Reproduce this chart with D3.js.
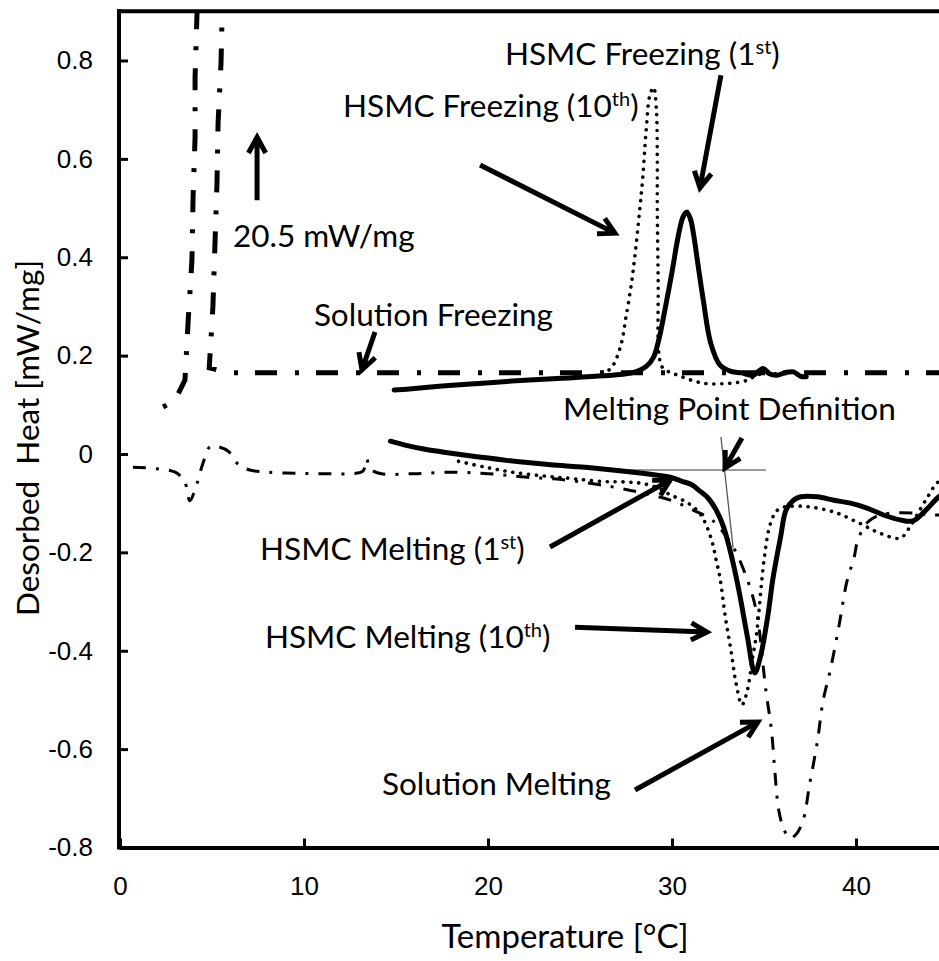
<!DOCTYPE html>
<html>
<head>
<meta charset="utf-8">
<script src="https://cdn.jsdelivr.net/npm/d3@7"></script>
<style>
  body { margin: 0; background: #fff; }
  svg { display: block; }
</style>
</head>
<body>
<svg id="chart" width="939" height="961"></svg>
<script>
// ---- DSC traces: temperature [°C] and desorbed heat [mW/mg] ----

// Solution freezing (cooling run; the exotherm peaks off-scale at 20.5 mW/mg)
const solFreezeT = [45, 30, 20, 10, 6, 4.85, 5.05, 5.16, 5.27, 5.33, 5.49, 5.54, 5.6, 4.85, 4.25, 4.18, 4.08, 4.08, 3.97, 3.91, 3.70, 3.53, 3.08, 2.72, 2.0];
const solFreezeV = [0.165, 0.165, 0.165, 0.165, 0.165, 0.175, 0.30, 0.425, 0.55, 0.672, 0.795, 0.876, 0.95, 20.5, 0.95, 0.89, 0.766, 0.644, 0.52, 0.394, 0.268, 0.15, 0.116, 0.103, 0.089];

// Solution melting
const solMeltT = [0.7, 2.0, 3.0, 3.5, 3.8, 4.1, 4.5, 4.9, 5.3, 5.9, 6.4, 7.0, 8.0, 9.5, 11, 12.5, 13.2, 13.4, 13.6, 14.2, 16, 18, 20, 22, 24, 26, 27.2, 28.5, 30, 31.2, 32.2, 33.3, 34.1, 34.6, 35.1, 35.4, 35.6, 35.8, 36.1, 36.4, 36.7, 37.1, 37.5, 37.9, 38.2, 38.6, 39.1, 39.5, 39.9, 40.1, 40.6, 41.2, 42, 43.1, 44.2, 45];
const solMeltV = [-0.027, -0.030, -0.037, -0.055, -0.095, -0.07, -0.02, 0.015, 0.015, 0.005, -0.02, -0.032, -0.037, -0.039, -0.040, -0.040, -0.035, -0.010, -0.030, -0.040, -0.040, -0.037, -0.040, -0.047, -0.052, -0.062, -0.070, -0.080, -0.095, -0.115, -0.135, -0.188, -0.256, -0.323, -0.48, -0.56, -0.65, -0.724, -0.765, -0.781, -0.775, -0.748, -0.667, -0.585, -0.504, -0.44, -0.344, -0.26, -0.21, -0.175, -0.14, -0.125, -0.120, -0.120, -0.124, -0.124];

// HSMC freezing, 1st cycle
const hsmcFreeze1T = [14.9, 16, 17.5, 19.7, 22, 24, 26.3, 27.5, 28.1, 28.6, 29.0, 29.3, 29.6, 30.0, 30.35, 30.6, 30.8, 31.0, 31.2, 31.4, 31.7, 32.1, 32.6, 33.2, 33.8, 34.4, 34.95, 35.3, 35.7, 36.2, 36.6, 37.0, 37.3];
const hsmcFreeze1V = [0.130, 0.133, 0.138, 0.144, 0.150, 0.154, 0.159, 0.163, 0.168, 0.178, 0.197, 0.235, 0.290, 0.370, 0.445, 0.482, 0.492, 0.478, 0.440, 0.388, 0.313, 0.226, 0.181, 0.168, 0.165, 0.160, 0.174, 0.163, 0.160, 0.166, 0.167, 0.158, 0.157];

// HSMC freezing, 10th cycle
const hsmcFreeze10T = [26.2, 26.7, 27.2, 27.5, 27.8, 28.0, 28.2, 28.4, 28.6, 28.8, 29.0, 29.15, 29.2, 29.2, 29.25, 29.3, 29.5, 30.4, 31.7, 33.2, 34.1, 34.6, 35.2, 36.0];
const hsmcFreeze10V = [0.163, 0.175, 0.218, 0.279, 0.348, 0.408, 0.480, 0.557, 0.660, 0.730, 0.745, 0.700, 0.600, 0.500, 0.350, 0.200, 0.175, 0.159, 0.144, 0.144, 0.150, 0.160, 0.165, 0.160];

// HSMC melting, 1st cycle
const hsmcMelt1T = [14.7, 15.5, 16.5, 17.9, 19.5, 21, 23.4, 24.9, 26.1, 27.9, 29.2, 29.9, 30.5, 31.1, 31.5, 31.9, 32.4, 32.8, 33.15, 33.4, 33.7, 34.1, 34.5, 34.8, 35.2, 35.5, 35.9, 36.2, 36.6, 37.0, 37.9, 38.8, 39.7, 40.6, 41.5, 42.4, 43.1, 43.8, 44.5, 45];
const hsmcMelt1V = [0.026, 0.018, 0.010, 0.002, -0.006, -0.013, -0.022, -0.026, -0.030, -0.037, -0.043, -0.047, -0.055, -0.063, -0.075, -0.087, -0.114, -0.148, -0.195, -0.235, -0.290, -0.372, -0.445, -0.413, -0.331, -0.250, -0.169, -0.114, -0.094, -0.087, -0.087, -0.094, -0.100, -0.110, -0.124, -0.134, -0.136, -0.114, -0.087, -0.075];

// HSMC melting, 10th cycle
const hsmcMelt10T = [18.4, 20, 21.5, 23.4, 24.3, 26.3, 27.5, 28.4, 29.3, 29.9, 30.8, 31.5, 31.9, 32.2, 32.4, 32.6, 32.9, 33.2, 33.5, 33.8, 34.1, 34.35, 34.6, 35.0, 35.3, 35.6, 35.9, 37.0, 38.8, 40.2, 41.3, 42.4, 42.9, 43.5, 43.9, 44.4, 45];
const hsmcMelt10V = [-0.015, -0.028, -0.038, -0.046, -0.049, -0.056, -0.057, -0.060, -0.070, -0.083, -0.098, -0.120, -0.148, -0.181, -0.216, -0.250, -0.331, -0.398, -0.470, -0.510, -0.480, -0.420, -0.364, -0.216, -0.148, -0.120, -0.110, -0.106, -0.118, -0.141, -0.161, -0.171, -0.150, -0.112, -0.087, -0.059, -0.045];

// Tangent construction used to read the melting point
const baseTangentT = [26, 35.1];
const baseTangentV = [-0.0325, -0.0325];
const slopeTangentT = [32.66, 33.32];
const slopeTangentV = [0.0346, -0.191];

// Axis ticks
const xTicks = [0, 10, 20, 30, 40];
const yTicks = [-0.8, -0.6, -0.4, -0.2, 0, 0.2, 0.4, 0.6, 0.8];

// Callout labels (text pieces, superscripts flagged) and their anchor in data units
const labelParts = [
  [["HSMC Freezing (1"], ["st", 1], [")"]],
  [["HSMC Freezing (10"], ["th", 1], [")"]],
  [["20.5 mW/mg"]],
  [["Solution Freezing"]],
  [["Melting Point Definition"]],
  [["HSMC Melting (1"], ["st", 1], [")"]],
  [["HSMC Melting (10"], ["th", 1], [")"]],
  [["Solution Melting"]]
];
const labelAnchor = ["start", "start", "start", "end", "start", "start", "start", "start"];
const labelT = [20.92, 12.12, 6.14, 23.53, 24.08, 7.61, 7.88, 14.24];
const labelV = [0.791, 0.685, 0.421, 0.26, 0.069, -0.2155, -0.394, -0.693];

// Callout arrows: tail (T, V) -> tip (T, V)
const arrowTailT = [7.45, 13.86, 19.57, 32.66, 33.8, 23.37, 24.73, 27.99];
const arrowTailV = [0.516, 0.248, 0.5875, 0.770, 0.0325, -0.189, -0.352, -0.683];
const arrowTipT  = [7.45, 13.15, 26.9, 31.52, 32.88, 29.9, 31.9, 34.67];
const arrowTipV  = [0.644, 0.171, 0.449, 0.541, -0.0285, -0.053, -0.362, -0.545];

// ---- drawing ----
const svg = d3.select("#chart");
const x = d3.scaleLinear().domain([0, 45]).range([120, 948]);
const y = d3.scaleLinear().domain([-0.8, 0.9]).range([847.5, 11.3]);

const zip = (a, b) => a.map((t, i) => [t, b[i]]);

svg.append("defs").append("clipPath").attr("id", "plotClip")
  .append("rect")
  .attr("x", x(0)).attr("y", y(0.9))
  .attr("width", x(45) - x(0)).attr("height", y(-0.8) - y(0.9));

const plot = svg.append("g").attr("clip-path", "url(#plotClip)");

const smooth = d3.line().x(d => x(d[0])).y(d => y(d[1])).curve(d3.curveCatmullRom.alpha(0.5));
const straight = d3.line().x(d => x(d[0])).y(d => y(d[1]));

// tangent lines (thin grey)
plot.append("path").attr("d", straight(zip(baseTangentT, baseTangentV)))
  .attr("fill", "none").attr("stroke", "#7a7a7a").attr("stroke-width", 1.5);
plot.append("path").attr("d", straight(zip(slopeTangentT, slopeTangentV)))
  .attr("fill", "none").attr("stroke", "#555").attr("stroke-width", 1.3);

// solution melting: thin dash-dot
plot.append("path").attr("d", smooth(zip(solMeltT, solMeltV)))
  .attr("fill", "none").attr("stroke", "#000").attr("stroke-width", 3)
  .attr("stroke-dasharray", "13,10,3,10");

// solution freezing: heavy long-dash-dot
plot.append("path").attr("d", straight(zip(solFreezeT, solFreezeV)))
  .attr("fill", "none").attr("stroke", "#000").attr("stroke-width", 5)
  .attr("stroke-dasharray", "22,17,4,18");

// HSMC 10th cycle: dotted
[[hsmcFreeze10T, hsmcFreeze10V], [hsmcMelt10T, hsmcMelt10V]].forEach(([t, v]) => {
  plot.append("path").attr("d", smooth(zip(t, v)))
    .attr("fill", "none").attr("stroke", "#000").attr("stroke-width", 3.6)
    .attr("stroke-linecap", "round").attr("stroke-dasharray", "0.1,7.8");
});

// HSMC 1st cycle: heavy solid
[[hsmcFreeze1T, hsmcFreeze1V], [hsmcMelt1T, hsmcMelt1V]].forEach(([t, v]) => {
  plot.append("path").attr("d", smooth(zip(t, v)))
    .attr("fill", "none").attr("stroke", "#000").attr("stroke-width", 5)
    .attr("stroke-linejoin", "round").attr("stroke-linecap", "round");
});

// ---- axes ----
const xAxis = svg.append("g").attr("transform", `translate(0,${y(-0.8)})`)
  .call(d3.axisBottom(x).tickValues(xTicks).tickSize(-9).tickSizeOuter(0).tickPadding(29).tickFormat(d3.format("d")));
const yAxis = svg.append("g").attr("transform", `translate(${x(0) - 1},0)`)
  .call(d3.axisLeft(y).tickValues(yTicks).tickSize(-9).tickSizeOuter(0).tickPadding(26)
    .tickFormat(d => d === 0 ? "0" : d.toFixed(1)));
[xAxis, yAxis].forEach(g => {
  g.select(".domain").attr("stroke", "#000").attr("stroke-width", 4);
  g.selectAll(".tick line").attr("stroke", "#000").attr("stroke-width", 3);
  g.selectAll(".tick text").attr("font-family", "'Liberation Sans', Arial, sans-serif")
    .attr("font-size", 26).attr("fill", "#000");
});
yAxis.select(".domain").attr("d", `M0,${y(-0.8) + 2}V${y(0.9) - 2}`);
// top frame edge
svg.append("line")
  .attr("x1", x(0) - 3).attr("x2", x(45)).attr("y1", y(0.9)).attr("y2", y(0.9))
  .attr("stroke", "#000").attr("stroke-width", 4);

// axis titles
const titleFont = "Lato, 'Open Sans', sans-serif";
svg.append("text").attr("x", 565).attr("y", 948).attr("text-anchor", "middle")
  .attr("font-family", titleFont).attr("font-size", 33).text("Temperature [°C]");
svg.append("text").attr("transform", "translate(39,438) rotate(-90)").attr("text-anchor", "middle")
  .attr("font-family", titleFont).attr("font-size", 31.5).style("white-space", "pre")
  .text("Desorbed  Heat [mW/mg]");

// ---- callouts ----
const notes = svg.append("g").attr("font-family", titleFont).attr("font-size", 31.5).attr("fill", "#000");
labelParts.forEach((parts, i) => {
  const t = notes.append("text").attr("x", x(labelT[i])).attr("y", y(labelV[i]))
    .attr("text-anchor", labelAnchor[i]);
  let raised = false;
  parts.forEach(([s, sup]) => {
    const span = t.append("tspan").text(s);
    if (sup && !raised) { span.attr("dy", -11).attr("font-size", 20); raised = true; }
    else if (!sup && raised) { span.attr("dy", 11); raised = false; }
  });
});

const head = 18, spread = 0.5;
arrowTailT.forEach((_, i) => {
  const x0 = x(arrowTailT[i]), y0 = y(arrowTailV[i]);
  const x1 = x(arrowTipT[i]), y1 = y(arrowTipV[i]);
  const a = Math.atan2(y1 - y0, x1 - x0);
  const w1 = [x1 - head * Math.cos(a - spread), y1 - head * Math.sin(a - spread)];
  const w2 = [x1 - head * Math.cos(a + spread), y1 - head * Math.sin(a + spread)];
  svg.append("path")
    .attr("d", `M${x0},${y0}L${x1},${y1}M${w1[0]},${w1[1]}L${x1},${y1}L${w2[0]},${w2[1]}`)
    .attr("fill", "none").attr("stroke", "#000").attr("stroke-width", 5)
    .attr("stroke-linejoin", "miter");
});
</script>
</body>
</html>
